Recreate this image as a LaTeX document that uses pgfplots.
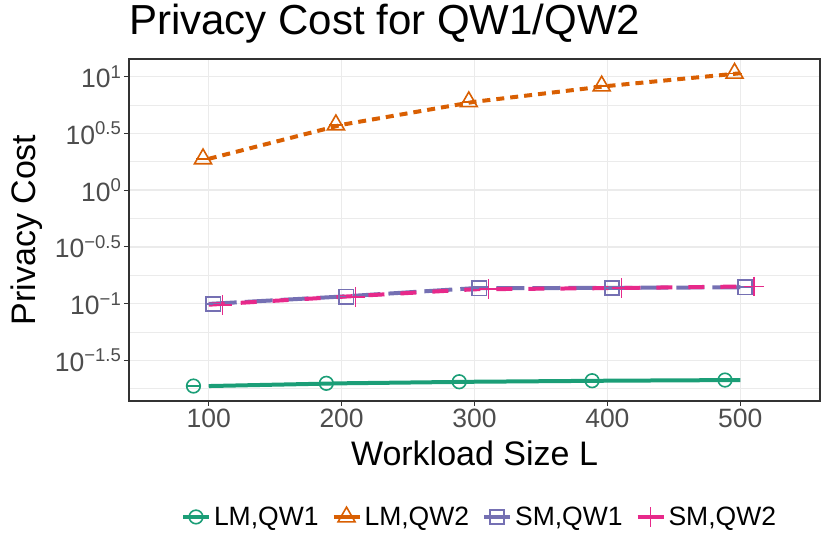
\documentclass[border=0pt]{standalone}
\usepackage{fontspec}
\setmainfont{Liberation Sans}
\usepackage{pgfplots}
\pgfplotsset{compat=1.18}
\usepackage{pgfplotstable}
\definecolor{cA}{HTML}{1B9E77}
\definecolor{cB}{HTML}{D95F02}
\definecolor{cC}{HTML}{7570B3}
\definecolor{cD}{HTML}{E7298A}
\definecolor{gridc}{HTML}{EBEBEB}
\definecolor{axc}{HTML}{333333}
\definecolor{tickc}{HTML}{4D4D4D}
\newcommand\sups[1]{\raisebox{9.5bp}{\fontsize{18.5bp}{18.5bp}\selectfont #1}}
\newcommand\tl[1]{10\sups{#1}}

\pgfplotstableread{
x xd y
100 88.5 0.01875
200 188.5 0.01982
300 288.5 0.02046
400 388.5 0.02089
500 488.5 0.02118
}\lmA
\pgfplotstableread{
x xd y
100 95.7 1.888
200 195.7 3.767
300 295.7 6.012
400 395.7 8.279
500 495.7 10.72
}\lmB
\pgfplotstableread{
x xd y
100 103.5 0.0993
200 203.5 0.1153
300 303.5 0.1368
400 403.5 0.1374
500 503.5 0.1393
}\smA
\pgfplotstableread{
x xd y
100 110.5 0.0977
200 210.5 0.1148
300 310.5 0.1337
400 410.5 0.1368
500 510.5 0.1413
}\smB

\begin{document}
\begin{tikzpicture}
\begin{axis}[
  at={(129bp,153bp)}, anchor=south west,
  scale only axis, width=691bp, height=342bp,
  xmin=40, xmax=560,
  ymode=log, ymin=0.01384, ymax=14.32,
  xtick={100,200,300,400,500},
  xticklabels={100,200,300,400,500},
  ytick={0.0316228,0.1,0.316228,1,3.16228,10},
  yticklabels={\tl{−1.5},\tl{−1},\tl{−0.5},\tl{0},\tl{0.5},\tl{1}},
  minor ytick={0.0177828,0.0562341,0.177828,0.562341,1.778279,5.623413},
  minor xtick={},
  grid=both,
  major grid style={draw=gridc, line width=1.4bp},
  minor grid style={draw=gridc, line width=0.8bp},
  axis line style={draw=axc, line width=1.1bp},
  xtick pos=bottom, ytick pos=left,
  tick align=outside,
  major tick length=5bp, minor tick length=0bp,
  tick style={draw=axc, line width=1.1bp},
  every tick label/.style={font=\fontsize{26.5bp}{26.5bp}\selectfont, text=tickc},
  xticklabel style={inner sep=2bp, yshift=-1bp},
  yticklabel style={inner sep=2bp, xshift=-1bp},
  title={Privacy Cost for QW1/QW2},
  title style={at={(axis description cs:0,1)}, anchor=base west, inner sep=0pt, yshift=19bp, font=\fontsize{42bp}{42bp}\selectfont},
  xlabel={Workload Size L},
  ylabel={Privacy Cost},
  xlabel style={at={(axis description cs:0.5,-0.19)}, anchor=base, inner sep=0pt, font=\fontsize{34bp}{34bp}\selectfont},
  ylabel style={at={(axis description cs:-0.148,0.5)}, anchor=center, rotate=0, inner sep=0pt, font=\fontsize{34bp}{34bp}\selectfont},
  legend columns=4,
  legend style={at={(axis description cs:0.508,-0.339)}, anchor=center, draw=none, fill=none,
    font=\fontsize{26.5bp}{26.5bp}\selectfont, inner sep=0pt,
    /tikz/every even column/.append style={column sep=10bp},
    nodes={inner sep=3bp}},
  legend image code/.code={\draw[mark repeat=2,mark phase=2,#1] plot coordinates {(0bp,0bp) (13bp,0bp) (26bp,0bp)};},
  clip=false,
]
% lines
\addplot[forget plot, cA, line width=4bp, no marks] table[x=x,y=y] {\lmA};
\addplot[forget plot, cB, line width=4bp, no marks, dash pattern=on 8bp off 6bp] table[x=x,y=y] {\lmB};
\addplot[forget plot, cC, line width=4bp, no marks, dash pattern=on 28bp off 8bp] table[x=x,y=y] {\smA};
\addplot[forget plot, cD, line width=4bp, no marks, dash pattern=on 16bp off 16bp] table[x=x,y=y] {\smB};
% marks with small bars
\addplot[forget plot, cA, line width=1.6bp, only marks, mark=o, mark size=6.8bp,
  error bars/.cd, x dir=both, x fixed=5.4, error mark=none, error bar style={line width=1.5bp}] table[x=xd,y=y] {\lmA};
\addplot[forget plot, cB, line width=1.6bp, only marks, mark=triangle, mark size=9.8bp,
  error bars/.cd, x dir=both, x fixed=5.4, error mark=none, error bar style={line width=1.5bp}] table[x=xd,y=y] {\lmB};
\addplot[forget plot, cC, line width=1.6bp, only marks, mark=square, mark size=7.2bp,
  error bars/.cd, x dir=both, x fixed=5.4, error mark=none, error bar style={line width=1.5bp}] table[x=xd,y=y] {\smA};
\addplot[forget plot, cD, line width=1.6bp, only marks, mark=+, mark size=9.8bp,
  error bars/.cd, x dir=both, x fixed=5.4, error mark=none, error bar style={line width=1.5bp}] table[x=xd,y=y] {\smB};
% legend
\addlegendimage{cA, line width=4bp, mark=o, mark size=6.8bp, mark options={line width=1.6bp, solid}}
\addlegendentry{LM,QW1}
\addlegendimage{cB, line width=4bp, mark=triangle, mark size=9.8bp, mark options={line width=1.6bp, solid}}
\addlegendentry{LM,QW2}
\addlegendimage{cC, line width=4bp, mark=square, mark size=7.2bp, mark options={line width=1.6bp, solid}}
\addlegendentry{SM,QW1}
\addlegendimage{cD, line width=4bp, mark=+, mark size=9.8bp, mark options={line width=1.6bp, solid}}
\addlegendentry{SM,QW2}
\end{axis}
\pgfresetboundingbox
\path[use as bounding box] (0,0) rectangle (830bp,554bp);
\end{tikzpicture}
\end{document}
